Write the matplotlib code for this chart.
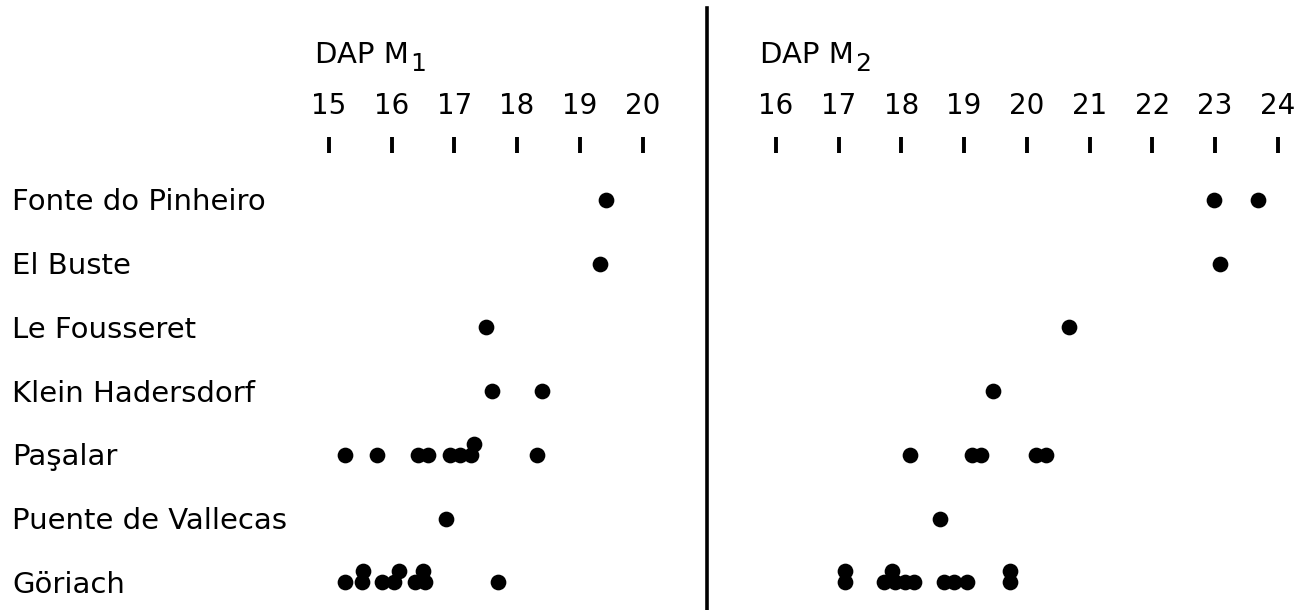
import matplotlib
matplotlib.use("Agg")
import matplotlib.pyplot as plt
from matplotlib.lines import Line2D
from matplotlib import transforms

# yacimientos (de arriba a abajo)
sitios = ["Fonte do Pinheiro", "El Buste", "Le Fousseret", "Klein Hadersdorf",
          "Paşalar", "Puente de Vallecas", "Göriach"]

ticks_m1 = [15, 16, 17, 18, 19, 20]
ticks_m2 = [16, 17, 18, 19, 20, 21, 22, 23, 24]

# DAP M1 (mm)
fonte_m1 = [19.41]
buste_m1 = [19.33]
fousseret_m1 = [17.50]
klein_m1 = [17.60, 18.40]
pasalar_m1 = [15.25, 15.77, 16.42, 16.58, 16.93, 17.09, 17.27, 17.31, 18.31]
puente_m1 = [16.86]
goriach_m1 = [15.25, 15.52, 15.55, 15.84, 16.03, 16.11, 16.37, 16.53, 16.50, 17.69]

# DAP M2 (mm)
fonte_m2 = [22.98, 23.68]
buste_m2 = [23.08]
fousseret_m2 = [20.67]
klein_m2 = [19.46]
pasalar_m2 = [18.13, 19.13, 19.27, 20.14, 20.30]
puente_m2 = [18.62]
goriach_m2 = [17.10, 17.10, 17.72, 17.90, 17.85, 18.06, 18.20, 18.68, 18.84, 19.05, 19.74, 19.74]

m1 = [fonte_m1, buste_m1, fousseret_m1, klein_m1, pasalar_m1, puente_m1, goriach_m1]
m2 = [fonte_m2, buste_m2, fousseret_m2, klein_m2, pasalar_m2, puente_m2, goriach_m2]

plt.rcParams["font.family"] = ["DejaVu Sans"]

W, H = 1298, 610
fig = plt.figure(figsize=(W / 100, H / 100), dpi=100)

FS = 21
ESCALA = 62.7      # px por mm
FILA = 63.7        # px entre filas
Y0 = 200           # px de la primera fila
TOP, BOTTOM = 153, 610
SUBE = 0.17        # desplazamiento de puntos repetidos


def crear_eje(x0, x1, v_ref, px_ref, ticks):
    ax = fig.add_axes([x0 / W, 1 - BOTTOM / H, (x1 - x0) / W, (BOTTOM - TOP) / H])
    ax.set_xlim(v_ref + (x0 - px_ref) / ESCALA, v_ref + (x1 - px_ref) / ESCALA)
    ax.set_ylim((BOTTOM - Y0) / FILA, (TOP - Y0) / FILA)
    for s in ax.spines.values():
        s.set_visible(False)
    ax.xaxis.tick_top()
    ax.set_xticks(ticks)
    ax.set_xticklabels([str(t) for t in ticks], fontsize=20)
    ax.tick_params(axis="x", direction="out", length=11.5, width=2.8, pad=12)
    ax.set_yticks([])
    return ax


def puntos(ax, datos):
    for i, valores in enumerate(datos):
        colocados = []
        xs, ys = [], []
        for v in valores:
            cerca = [c for c in colocados if abs(c - v) < 0.1]
            if cerca:
                ys.append(i - SUBE)
            else:
                colocados.append(v)
                ys.append(i)
            xs.append(v)
        ax.scatter(xs, ys, s=128, color="black", linewidths=0, zorder=3)


ax1 = crear_eje(300, 690, 15, 329, ticks_m1)
ax2 = crear_eje(722, 1298, 16, 776, ticks_m2)

puntos(ax1, m1)
puntos(ax2, m2)

# nombres de los yacimientos
trans = transforms.blended_transform_factory(fig.transFigure, ax1.transData)
trans = transforms.offset_copy(trans, fig=fig, y=-7.5, units="points")
for i, nombre in enumerate(sitios):
    ax1.text(12 / W, i, nombre, transform=trans, fontsize=FS,
             ha="left", va="baseline")

# titulos con subindice
renderer = fig.canvas.get_renderer()
for x, sub in [(315, "1"), (760, "2")]:
    t = fig.text(x / W, 1 - 63 / H, "DAP M", fontsize=FS, ha="left", va="baseline")
    bb = t.get_window_extent(renderer)
    fig.text((bb.x1 + 1) / W, 1 - 71 / H, sub, fontsize=18,
             ha="left", va="baseline")

# linea divisoria
fig.add_artist(Line2D([707 / W, 707 / W], [1 - 8 / H, 0], color="black",
                      lw=2.6, transform=fig.transFigure))

fig.savefig("out.png", dpi=100, facecolor="white")
